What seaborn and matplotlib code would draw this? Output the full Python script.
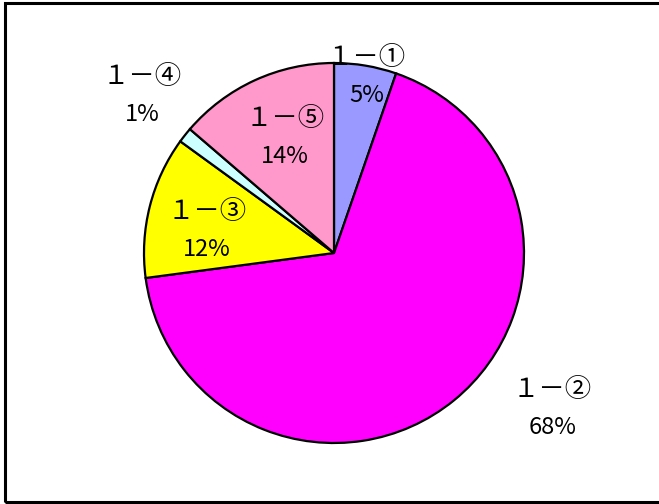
import matplotlib
matplotlib.use('Agg')
from matplotlib import pyplot as plt
from matplotlib.patches import Rectangle
import seaborn as sb

# slice data (clockwise from 12 o'clock)
labels = ['１－①', '１－②', '１－③', '１－④', '１－⑤']
shares = [5.3, 67.6, 12.1, 1.3, 13.7]
pct_text = ['5%', '68%', '12%', '1%', '14%']
colors = ['#9999FF', '#FF00FF', '#FFFF00', '#CCFFFF', '#FF99CC']

# label centres in pie units (radius = 1)
label_pos = [(0.17, 0.93), (1.15, -0.82), (-0.67, 0.12), (-1.01, 0.83), (-0.26, 0.61)]


def main():
    sb.set_style('white')
    plt.rcParams['font.family'] = ['Noto Sans CJK JP', 'DejaVu Sans']
    plt.rcParams['text.color'] = 'black'

    fig = plt.figure(figsize=(6.59, 5.04), dpi=100)
    ax = fig.add_axes([0, 0, 1, 1])
    ax.pie(shares, colors=colors, startangle=90, counterclock=False, radius=1,
           wedgeprops={'edgecolor': 'black', 'linewidth': 1.6})
    ax.set_aspect('auto')
    ax.set_xlim(-334 / 190, (659 - 334) / 190)
    ax.set_ylim(-(504 - 253) / 190, 253 / 190)
    ax.axis('off')

    for lab, pct, (x, y) in zip(labels, pct_text, label_pos):
        ax.text(x, y + 0.1, lab, ha='center', va='center', fontsize=19)
        ax.text(x, y - 0.1, pct, ha='center', va='center', fontsize=17)

    # outer frame of the chart area
    fig.patches.append(Rectangle((5 / 659, 2 / 504), 700 / 659, 499 / 504,
                                 transform=fig.transFigure, fill=False,
                                 edgecolor='black', linewidth=2.2))

    fig.savefig('out.png', dpi=100)


if __name__ == '__main__':
    main()
